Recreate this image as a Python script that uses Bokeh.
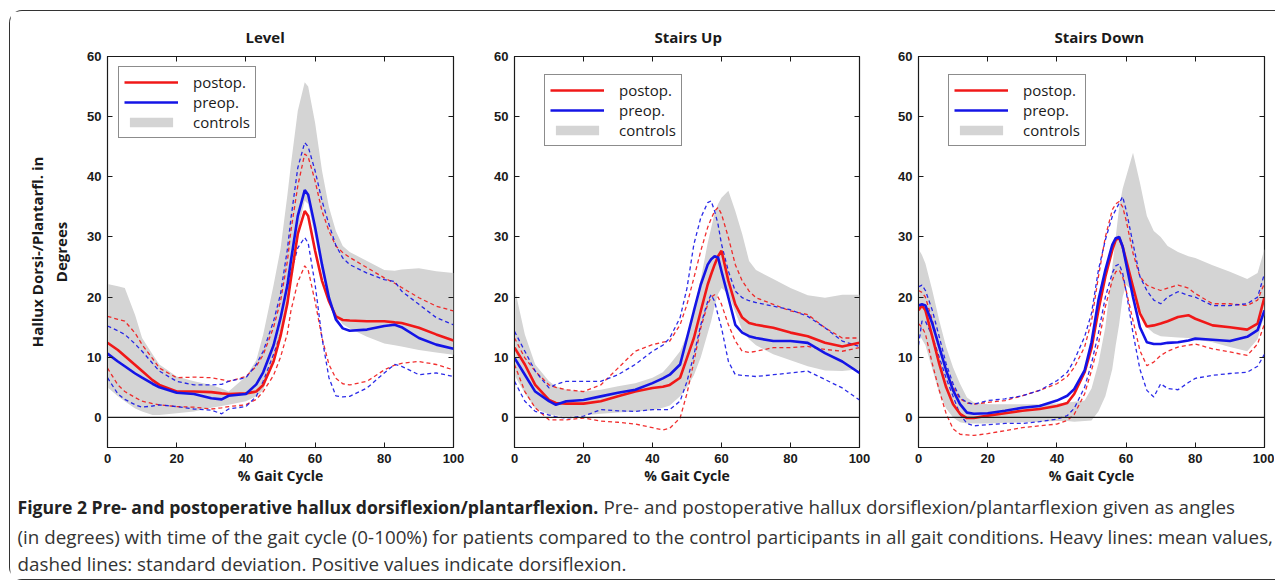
from bokeh.plotting import figure
from bokeh.models import (Span, Legend, LegendItem, LinearAxis, Range1d,
                          FixedTicker, ColumnDataSource)
from bokeh.layouts import row, column
from bokeh.embed import file_html
from bokeh.resources import INLINE
from bokeh.core.properties import value

# ---------------- data ----------------
titles = ["Level", "Stairs Up", "Stairs Down"]
x_ticks = [0, 20, 40, 60, 80, 100]
y_ticks = [0, 10, 20, 30, 40, 50, 60]
legend_labels = ["postop.", "preop.", "controls"]
y_label = "Hallux Dorsi-/Plantarfl. in\nDegrees"
x_label = "% Gait Cycle"

# Level
level_x = [0, 3, 5, 8, 10, 13, 15, 20, 25, 30, 33, 35, 40, 43, 45, 48, 50, 52, 53, 55, 57, 58,
           60, 62, 64, 66, 68, 70, 75, 80, 83, 85, 90, 95, 100]
level_post = [12.4, 11.2, 10.2, 8.7, 7.7, 6.2, 5.4, 4.3, 4.3, 4.2, 4.0, 3.9, 4.0, 4.3, 5.4, 9.3, 13.5,
              19.0, 23.0, 30.5, 34.3, 33.5, 27.7, 22.7, 19.3, 16.8, 16.2, 16.1, 16.0, 16.0, 15.8,
              15.7, 14.9, 13.8, 12.8]
level_post_hi = [16.8, 16.3, 16.0, 14.0, 12.1, 9.8, 8.2, 6.6, 6.7, 6.6, 6.3, 6.0, 6.8, 8.5, 10.4, 15.0,
                 19.3, 26.0, 31.0, 38.5, 43.8, 43.3, 39.3, 34.3, 31.0, 28.5, 27.4, 26.6, 24.9, 23.2,
                 22.3, 21.6, 19.9, 18.5, 17.7]
level_post_lo = [8.2, 5.4, 4.3, 3.3, 2.7, 2.3, 2.1, 1.8, 1.7, 1.4, 1.6, 1.8, 2.1, 3.0, 4.3, 7.0, 10.0,
                 14.0, 17.7, 22.5, 25.2, 24.5, 19.3, 13.2, 8.8, 6.5, 5.6, 5.4, 6.0, 7.9, 8.7, 9.0,
                 9.3, 8.8, 7.9]
level_pre = [10.6, 9.3, 8.5, 7.3, 6.6, 5.6, 5.0, 4.1, 3.9, 3.2, 3.0, 3.6, 3.9, 5.5, 7.5, 12.0, 16.5,
             22.0, 26.0, 33.5, 37.8, 37.0, 31.6, 25.4, 19.9, 16.3, 14.8, 14.4, 14.6, 15.2, 15.4,
             15.0, 13.2, 12.1, 11.4]
level_pre_hi = [15.2, 14.4, 13.8, 12.2, 11.0, 9.0, 7.7, 6.0, 5.4, 5.4, 5.5, 6.0, 6.6, 8.8, 11.0, 16.0,
                20.5, 28.0, 33.0, 41.5, 45.7, 45.0, 41.0, 36.0, 32.1, 28.6, 26.5, 25.4, 24.0, 22.9,
                22.6, 21.0, 18.8, 16.6, 15.4]
level_pre_lo = [6.6, 3.9, 3.0, 2.1, 1.7, 1.9, 2.1, 1.8, 1.4, 1.2, 0.6, 1.4, 1.8, 3.5, 6.0, 10.5, 13.8,
                19.0, 24.0, 28.2, 29.9, 29.0, 22.1, 13.2, 6.6, 3.6, 3.4, 3.5, 4.9, 7.4, 8.8, 8.5,
                7.1, 7.4, 6.8]
level_ctrl_hi = [22.2, 21.8, 21.5, 17.0, 13.2, 10.5, 8.8, 6.8, 6.0, 5.4, 4.8, 4.3, 6.8, 9.5, 13.8,
                 22.0, 28.0, 37.0, 42.0, 51.0, 55.7, 55.0, 49.0, 41.0, 35.0, 31.0, 28.5, 27.5, 26.0,
                 24.5, 24.4, 24.6, 24.8, 24.3, 24.0]
level_ctrl_lo = [5.0, 3.5, 2.7, 1.5, 1.0, 0.4, 0.4, 0.7, 1.0, 1.6, 1.9, 2.1, 2.7, 3.5, 4.5, 10.0,
                 14.0, 20.0, 24.0, 31.0, 36.0, 35.5, 30.0, 24.0, 19.5, 17.0, 15.5, 14.8, 13.4, 12.3,
                 12.0, 11.8, 11.2, 10.8, 10.4]

# Stairs Up
up_x = [0, 3, 6, 10, 12, 15, 20, 25, 30, 35, 40, 43, 45, 48, 50, 52, 54, 56, 57, 58, 59, 60, 62,
        64, 66, 68, 70, 75, 80, 85, 90, 95, 100]
up_post = [11.6, 8.8, 5.4, 2.9, 2.4, 2.3, 2.3, 2.7, 3.5, 4.3, 4.9, 5.1, 5.4, 6.6, 9.9, 13.2, 17.7,
           22.1, 23.8, 25.4, 26.8, 27.7, 22.7, 18.8, 16.6, 15.7, 15.4, 14.9, 14.1, 13.5, 12.4,
           11.8, 12.4]
up_post_hi = [13.2, 9.9, 7.7, 5.4, 5.0, 4.6, 4.3, 5.4, 8.2, 11.0, 12.1, 12.5, 12.7, 15.4, 18.8,
              23.2, 27.7, 31.6, 33.0, 34.3, 34.9, 33.8, 29.9, 25.4, 22.7, 21.0, 19.9, 18.8, 17.7,
              17.1, 14.9, 13.2, 13.2]
up_post_lo = [8.8, 4.3, 1.6, -0.4, -0.4, -0.4, -0.1, -0.6, -0.8, -1.1, -1.7, -2.1, -1.8, -0.1,
              4.0, 9.3, 14.9, 18.8, 20.0, 20.4, 20.0, 18.8, 15.4, 12.7, 11.0, 10.8, 11.0, 11.6,
              11.6, 11.8, 11.3, 11.0, 11.6]
up_pre = [9.9, 7.1, 4.3, 2.7, 2.1, 2.7, 2.9, 3.5, 4.1, 4.6, 5.7, 6.5, 7.1, 8.8, 13.2, 17.7, 22.1,
          25.4, 26.3, 26.8, 26.6, 24.3, 19.9, 15.4, 14.1, 13.5, 13.2, 12.7, 12.7, 12.4, 10.7,
          9.3, 7.4]
up_pre_hi = [14.3, 11.0, 7.7, 4.9, 5.5, 6.0, 6.0, 6.0, 7.1, 8.8, 11.0, 12.0, 13.2, 16.6, 21.5,
             28.8, 33.2, 35.7, 36.0, 34.3, 32.1, 28.8, 24.3, 21.0, 19.9, 19.4, 19.1, 18.5, 17.9,
             16.8, 14.9, 12.7, 11.8]
up_pre_lo = [6.0, 2.7, 1.0, 0.4, 0.1, -0.1, 0.2, 1.3, 1.1, 1.0, 1.3, 1.3, 1.3, 2.7, 6.0, 10.4,
             15.4, 19.3, 20.4, 19.3, 17.0, 14.9, 9.3, 7.1, 7.0, 6.9, 6.8, 7.1, 7.4, 7.7, 6.3, 4.9,
             2.9]
up_ctrl_hi = [21.6, 13.8, 8.8, 6.0, 5.2, 4.6, 4.3, 4.6, 5.2, 5.7, 6.6, 7.5, 8.8, 11.0, 13.8, 18.0,
              23.0, 29.0, 31.5, 34.0, 35.5, 36.5, 37.7, 34.3, 30.5, 26.0, 24.5, 23.0, 21.5, 20.3,
              19.9, 20.4, 20.4]
up_ctrl_lo = [7.0, 4.0, 1.5, 0.5, 0.3, 0.2, 0.3, 0.6, 0.8, 1.0, 1.2, 1.6, 2.0, 3.5, 5.0, 7.0, 10.0,
              14.0, 16.0, 18.5, 20.5, 21.5, 20.5, 17.5, 14.5, 13.0, 12.0, 10.5, 9.5, 8.5, 7.8,
              7.7, 8.0]

# Stairs Down
down_x = [0, 1, 2, 4, 6, 8, 10, 12, 14, 16, 20, 25, 30, 35, 40, 43, 45, 48, 50, 52, 54, 56, 57,
          58, 59, 60, 62, 64, 66, 68, 70, 72, 75, 78, 80, 85, 90, 95, 98, 100]
down_post = [17.8, 18.6, 17.8, 13.4, 8.9, 5.0, 2.2, 0.6, -0.1, -0.1, 0.3, 0.7, 1.1, 1.4, 1.9, 2.4,
             3.9, 7.5, 11.5, 17.8, 23.4, 27.8, 29.5, 29.8, 28.4, 26.2, 21.7, 17.3, 15.1, 15.3,
             15.6, 16.0, 16.7, 17.0, 16.4, 15.3, 15.0, 14.6, 15.6, 20.0]
down_post_hi = [21.1, 20.8, 20.0, 16.1, 11.7, 7.8, 5.0, 3.1, 2.4, 2.2, 2.5, 2.8, 3.6, 4.5, 5.6,
                6.8, 8.3, 11.7, 16.0, 23.4, 30.0, 34.5, 35.5, 35.9, 35.0, 32.8, 27.3, 23.4, 22.0,
                21.5, 21.1, 21.5, 22.0, 21.5, 20.6, 18.9, 18.9, 18.6, 19.5, 22.3]
down_post_lo = [15.6, 15.0, 13.9, 8.9, 4.5, 0.6, -1.9, -2.8, -2.9, -3.0, -2.7, -2.2, -1.7, -1.4,
                -1.1, -0.5, 0.5, 3.9, 7.8, 12.2, 18.4, 22.8, 24.2, 24.5, 23.4, 21.1, 16.1, 11.1,
                8.6, 9.2, 10.3, 11.0, 11.7, 12.0, 12.2, 11.4, 10.9, 10.3, 12.2, 15.6]
down_pre = [18.6, 18.8, 18.6, 15.6, 11.7, 7.8, 4.5, 2.2, 0.8, 0.6, 0.7, 1.1, 1.6, 1.9, 2.8, 3.6,
            4.7, 7.8, 12.5, 19.5, 24.5, 28.7, 29.8, 30.0, 28.4, 25.6, 20.0, 15.0, 12.5, 12.2,
            12.2, 12.4, 12.5, 12.8, 13.1, 12.9, 12.7, 13.4, 14.5, 17.8]
down_pre_hi = [21.7, 22.0, 21.1, 17.8, 13.4, 8.9, 5.6, 3.3, 2.5, 2.2, 2.8, 3.1, 3.6, 4.5, 6.1, 7.5,
               9.5, 13.4, 17.3, 24.5, 29.5, 33.4, 34.5, 35.6, 36.7, 34.5, 28.9, 23.4, 21.1, 19.5,
               18.9, 20.0, 20.9, 20.3, 20.0, 18.6, 18.6, 18.9, 20.0, 23.9]
down_pre_lo = [12.0, 16.0, 16.0, 13.5, 10.0, 6.5, 3.5, 0.5, -1.0, -1.4, -1.2, -1.0, -1.0, -0.7,
               -0.3, 0.3, 1.5, 5.0, 9.0, 14.0, 20.0, 24.0, 25.2, 25.5, 24.0, 21.0, 14.0, 8.0, 4.5,
               3.4, 5.6, 4.8, 4.6, 5.8, 6.5, 7.0, 7.3, 7.5, 8.5, 10.5]
down_ctrl_hi = [28.0, 27.0, 25.6, 21.1, 16.1, 11.7, 8.3, 5.6, 3.3, 2.5, 2.2, 2.2, 2.2, 2.2, 2.3,
                2.5, 2.6, 2.8, 4.8, 9.0, 15.0, 25.0, 30.0, 35.0, 38.0, 40.0, 44.0, 39.0, 33.5,
                31.0, 30.0, 28.5, 27.5, 26.8, 26.5, 25.3, 24.2, 23.0, 24.0, 28.0]
down_ctrl_lo = [14.0, 13.0, 12.0, 8.0, 4.0, 1.5, 0.0, -0.8, -1.0, -1.0, -1.0, -0.9, -0.8, -0.7,
                -0.6, -0.6, -0.7, -0.6, -0.5, 1.0, 3.5, 8.0, 12.0, 15.5, 20.0, 22.0, 21.0, 18.0,
                15.0, 14.0, 13.5, 13.4, 13.3, 13.2, 13.0, 12.5, 11.7, 11.0, 13.0, 17.0]

caption_bold = "Figure 2 Pre- and postoperative hallux dorsiflexion/plantarflexion."
caption_lines = [
    "Pre- and postoperative hallux dorsiflexion/plantarflexion given as angles",
    "(in degrees) with time of the gait cycle (0-100%) for patients compared to the control participants in all gait conditions. Heavy lines: mean values,",
    "dashed lines: standard deviation. Positive values indicate dorsiflexion.",
]

# ---------------- styling ----------------
RED = "#f01818"
BLUE = "#1414e6"
GREY = "#d4d4d4"
INK = "#1a1a1a"
FRAME_H = 391
UI_FONT = "Open Sans"
NUM_FONT = "Liberation Sans"


def make_panel(idx, x, post, post_hi, post_lo, pre, pre_hi, pre_lo, c_hi, c_lo,
               frame_w, b_left, b_right, legend_pos, title_offset):
    p = figure(frame_width=frame_w, frame_height=FRAME_H,
               x_range=Range1d(0, 100), y_range=Range1d(-5, 60),
               output_backend="svg", toolbar_location=None,
               min_border_left=b_left, min_border_right=b_right,
               min_border_top=45, min_border_bottom=43)
    p.background_fill_color = "white"
    p.border_fill_color = "white"
    p.outline_line_color = INK
    p.outline_line_width = 1.2
    p.grid.visible = False

    p.title.text = titles[idx]
    p.title.align = "left"
    p.title.offset = title_offset
    p.title.text_font = UI_FONT
    p.title.text_font_style = "bold"
    p.title.text_font_size = "15px"
    p.title.text_color = INK
    p.title.standoff = 20

    src = ColumnDataSource(dict(x=x, post=post, post_hi=post_hi, post_lo=post_lo,
                                pre=pre, pre_hi=pre_hi, pre_lo=pre_lo, c_hi=c_hi, c_lo=c_lo))
    band = p.varea(x="x", y1="c_lo", y2="c_hi", source=src, fill_color=GREY, fill_alpha=1.0)
    for col, c in [("post_hi", RED), ("post_lo", RED), ("pre_hi", BLUE), ("pre_lo", BLUE)]:
        p.line("x", col, source=src, line_color=c, line_width=1.3, line_alpha=0.9,
               line_dash="4 3")
    r_post = p.line("x", "post", source=src, line_color=RED, line_width=2.6)
    r_pre = p.line("x", "pre", source=src, line_color=BLUE, line_width=2.6)

    p.add_layout(Span(location=0, dimension="width", line_color=INK, line_width=1.1))

    for ax in p.xaxis + p.yaxis:
        ax.major_tick_in = 5
        ax.major_tick_out = 0
        ax.minor_tick_line_color = None
        ax.axis_line_color = INK
        ax.major_tick_line_color = INK
        ax.major_label_text_font = NUM_FONT
        ax.major_label_text_font_style = "bold"
        ax.major_label_text_font_size = "13px"
        ax.major_label_text_color = INK
        ax.major_label_standoff = 6
    p.xaxis.ticker = FixedTicker(ticks=x_ticks)
    p.yaxis.ticker = FixedTicker(ticks=y_ticks)
    p.xaxis.axis_label = x_label
    p.xaxis.axis_label_text_font = UI_FONT
    p.xaxis.axis_label_text_font_style = "bold"
    p.xaxis.axis_label_text_font_size = "14px"
    p.xaxis.axis_label_text_color = INK
    p.xaxis.axis_label_standoff = 0
    if idx == 0:
        p.yaxis.axis_label = y_label
        p.yaxis.axis_label_text_font = UI_FONT
        p.yaxis.axis_label_text_font_style = "bold"
        p.yaxis.axis_label_text_font_size = "15px"
        p.yaxis.axis_label_text_color = INK
        p.yaxis.axis_label_standoff = 13

    # box ticks on the top and right sides (no labels drawn there)
    top = LinearAxis(ticker=FixedTicker(ticks=x_ticks), major_tick_in=5, major_tick_out=0,
                     minor_tick_line_color=None, axis_line_color=None,
                     major_label_text_font_size="1px", major_label_text_color=None,
                     major_label_standoff=0)
    right = LinearAxis(ticker=FixedTicker(ticks=y_ticks), major_tick_in=5, major_tick_out=0,
                       minor_tick_line_color=None, axis_line_color=None,
                       major_label_text_font_size="1px", major_label_text_color=None,
                       major_label_standoff=0)
    top.major_tick_line_color = INK
    right.major_tick_line_color = INK
    p.add_layout(top, "above")
    p.add_layout(right, "right")

    legend = Legend(items=[LegendItem(label=legend_labels[0], renderers=[r_post]),
                           LegendItem(label=legend_labels[1], renderers=[r_pre]),
                           LegendItem(label=legend_labels[2], renderers=[band])],
                    location=legend_pos)
    legend.border_line_color = INK
    legend.border_line_width = 1.2
    legend.background_fill_color = "white"
    legend.background_fill_alpha = 1.0
    legend.label_text_font = UI_FONT
    legend.label_text_font_size = "15px"
    legend.label_text_color = INK
    legend.glyph_width = 54
    legend.glyph_height = 12
    legend.label_height = 19
    legend.spacing = 0
    legend.padding = 5
    legend.margin = 0
    legend.label_standoff = 15
    p.add_layout(legend)
    return p


p1 = make_panel(0, level_x, level_post, level_post_hi, level_post_lo, level_pre, level_pre_hi,
                level_pre_lo, level_ctrl_hi, level_ctrl_lo, 346, 97, 22, (11, 309), 138)
p2 = make_panel(1, up_x, up_post, up_post_hi, up_post_lo, up_pre, up_pre_hi, up_pre_lo,
                up_ctrl_hi, up_ctrl_lo, 345, 39, 36, (30, 301), 140)
p3 = make_panel(2, down_x, down_post, down_post_hi, down_post_lo, down_pre, down_pre_hi,
                down_pre_lo, down_ctrl_hi, down_ctrl_lo, 346, 23, 10, (30, 301), 136)

CAP_W, CAP_H = 1265, 89
cap = figure(width=CAP_W, height=CAP_H, x_range=Range1d(0, CAP_W), y_range=Range1d(0, CAP_H),
             output_backend="svg", toolbar_location=None, min_border=0)
cap.axis.visible = False
cap.grid.visible = False
cap.outline_line_color = None
cap.background_fill_color = "white"
cap.border_fill_color = "white"
cap.text(x=[7], y=[73], text=[caption_bold], text_font=value(UI_FONT), text_font_style="bold",
         text_font_size="17.6px", text_color="#222222", text_baseline="middle")
cap.text(x=[593, 7, 7], y=[73, 43, 16], text=caption_lines, text_font=value(UI_FONT),
         text_font_size="18.8px", text_color="#333333", text_baseline="middle")

layout = column(row(p1, p2, p3), cap, margin=(10, 0, 0, 9),
                styles={"border-left": "1.3px solid #333", "border-top": "1.3px solid #333",
                        "border-bottom": "1.3px solid #333",
                        "border-top-left-radius": "13px", "border-bottom-left-radius": "13px"})

open("out.html", "w").write(file_html(layout, INLINE))
